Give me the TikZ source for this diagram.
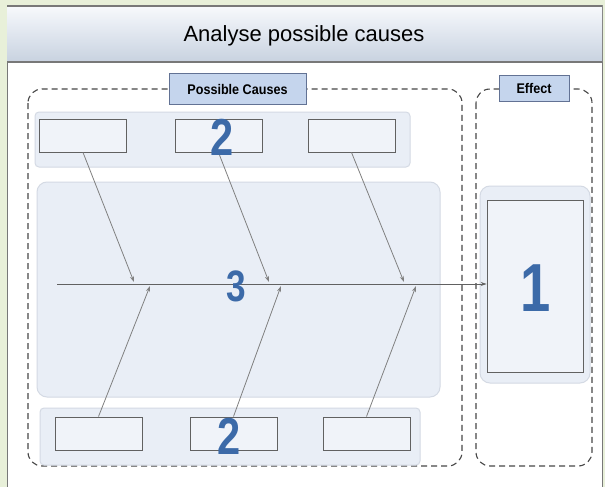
\documentclass[tikz,border=0pt]{standalone}
\usepackage{fontspec}
\usepackage{graphicx}
\setmainfont{Liberation Sans}
\usetikzlibrary{arrows.meta}
\usetikzlibrary{positioning}
\definecolor{sheet-green}{RGB}{232, 240, 217}
\definecolor{sheet-line}{RGB}{120, 120, 120}
\definecolor{bar-top}{RGB}{247, 249, 252}
\definecolor{bar-bottom}{RGB}{200, 210, 224}
\definecolor{panel-fill}{RGB}{233, 238, 246}
\definecolor{panel-line}{RGB}{212, 218, 228}
\definecolor{tag-fill}{RGB}{197, 213, 237}
\definecolor{tag-line}{RGB}{98, 114, 148}
\definecolor{digit-blue}{RGB}{60, 106, 168}

\tikzset{
  cause/.style={draw=black!62, fill=panel-fill!70, line width=0.9pt,
    minimum width=87pt, minimum height=33pt, inner sep=0pt},
  tag/.style={draw=tag-line, fill=tag-fill, line width=0.8pt, inner sep=0pt,
    font=\bfseries\fontsize{14}{16}\selectfont},
  digit/.style={text=digit-blue, inner sep=0pt, font=\bfseries},
  group/.style={draw=black!72, line width=1.1pt, dash pattern=on 6pt off 4pt,
    rounded corners=14pt},
  panel/.style={draw=panel-line, fill=panel-fill, line width=1pt, rounded corners=8pt},
  bone/.style={draw=black!50, line width=0.8pt, -{Stealth[length=6pt,width=4pt]}}
}

\begin{document}
\begin{tikzpicture}[x=1pt, y=-1pt]
\useasboundingbox (0,0) rectangle (605,487);
% sheet and title bar
\fill[sheet-green] (0,0) rectangle (605,487);
\begin{scope}
\clip (0,0) rectangle (605,487);
\filldraw[fill=white, draw=sheet-line, line width=1pt] (7,6) rectangle (602,500);
\end{scope}
\shade[top color=bar-top, bottom color=bar-bottom] (7,6) rectangle (602,62);
\draw[sheet-line, line width=1.2pt] (7,6) -- (602,6) (7,62) -- (602,62);
\node (title) at (304,36) {\fontsize{22}{25}\selectfont Analyse possible causes};

% dashed groups
\draw[group] (28,89) rectangle (462,466);
\draw[group] (476,89) rectangle (592,466);
\node[tag, minimum width=137pt, minimum height=31pt] (causes) at (237.5,89) {\scalebox{0.9}[1]{Possible Causes}};
\node[tag, minimum width=70pt, minimum height=26pt] (effect) at (534,88) {\scalebox{0.9}[1]{Effect}};

% shaded bands
\filldraw[panel, rounded corners=4pt] (35,112) rectangle (410,167);
\filldraw[panel, rounded corners=10pt] (37,182) rectangle (440,397);
\filldraw[panel, rounded corners=4pt] (40,408) rectangle (420,465);
\filldraw[panel, rounded corners=10pt] (480,186) rectangle (590,383);

% cause boxes
\node[cause] (c1) at (83,135.5) {};
\node[cause] (c2) at (218.5,135.5) {};
\node[cause] (c3) at (351.5,135.5) {};
\node[cause] (c4) at (98.5,433.5) {};
\node[cause] (c5) at (233.5,433.5) {};
\node[cause] (c6) at (366.5,433.5) {};
\node[cause, minimum width=96pt, minimum height=172pt] (result) at (535,286) {};

% spine and bones
\coordinate (tail) at (57,284);
\draw[bone, draw=black!62] (tail) -- (tail -| result.west);
\coordinate (t1) at (134,282);
\coordinate (t2) at (269,282);
\coordinate (t3) at (404,282);
\coordinate (b1) at (150,286);
\coordinate (b2) at (281,286);
\coordinate (b3) at (416,286);
\draw[bone] (c1.south) -- (t1);
\draw[bone] (c2.south) -- (t2);
\draw[bone] (c3.south) -- (t3);
\draw[bone] (c4.north) -- (b1);
\draw[bone] (c5.north) -- (b2);
\draw[bone] (c6.north) -- (b3);

% numbers
\node[digit] (n2a) at (222,137) {\fontsize{52}{52}\selectfont\scalebox{0.8}[1]{2}};
\node[digit] (n3) at (236,286) {\fontsize{44}{44}\selectfont\scalebox{0.8}[1]{3}};
\node[digit] (n2b) at (229,436) {\fontsize{52}{52}\selectfont\scalebox{0.8}[1]{2}};
\node[digit] (n1) at (536,288) {\fontsize{68}{68}\selectfont\scalebox{0.8}[1]{1}};
\end{tikzpicture}
\end{document}
